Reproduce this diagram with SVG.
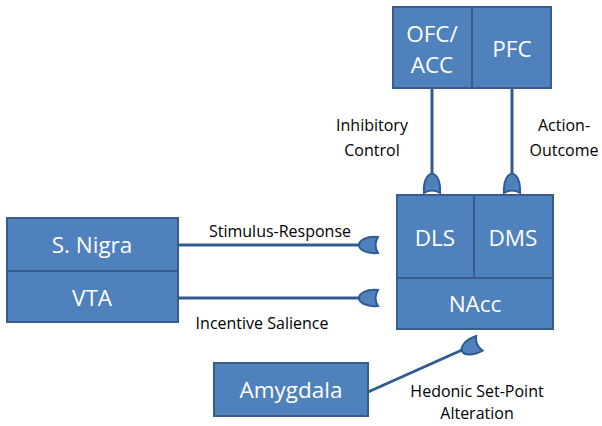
<svg xmlns="http://www.w3.org/2000/svg" width="602" height="426" viewBox="0 0 602 426">
<style>
.box{fill:#4f81bd;stroke:#385d8a;stroke-width:2}
.nt{fill:#fff;font-family:"Open Sans","Noto Sans",sans-serif;font-size:22.5px;text-anchor:middle}
.lb{fill:#000;font-family:"Open Sans","Noto Sans",sans-serif;font-size:16px;text-anchor:middle}
.ln{stroke:#2f5b8f;stroke-width:3;fill:none}
.cap{fill:#4f81bd;stroke:#2f5b8f;stroke-width:2}
</style>
<defs>
<path id="cap" d="M-8,19 C-9,6 -4,0 0,0 C4,0 9,6 8,19 Q0,14 -8,19 Z"/>
</defs>
<rect width="602" height="426" fill="#fff"/>
<g id="cortex">
<rect class="box" x="393" y="7" width="158" height="81"/>
<line x1="472" y1="7" x2="472" y2="88" stroke="#385d8a" stroke-width="2"/>
<text class="nt" x="432" y="42">OFC/</text>
<text class="nt" x="432" y="73">ACC</text>
<text class="nt" x="512" y="57">PFC</text>
</g>
<g id="striatum">
<rect class="box" x="397" y="195" width="156" height="134"/>
<line x1="474" y1="195" x2="474" y2="278" stroke="#385d8a" stroke-width="2"/>
<line x1="397" y1="278" x2="553" y2="278" stroke="#385d8a" stroke-width="2"/>
<text class="nt" x="435" y="246">DLS</text>
<text class="nt" x="513" y="246">DMS</text>
<text class="nt" x="475" y="312">NAcc</text>
</g>
<g id="midbrain">
<rect class="box" x="7" y="218" width="171" height="104"/>
<line x1="7" y1="271" x2="178" y2="271" stroke="#385d8a" stroke-width="2"/>
<text class="nt" x="92" y="253">S. Nigra</text>
<text class="nt" x="92" y="306">VTA</text>
</g>
<g id="amygdala">
<rect class="box" x="214" y="363" width="154" height="53"/>
<text class="nt" x="291" y="398">Amygdala</text>
</g>
<g id="connectors">
<line class="ln" x1="432" y1="88" x2="432" y2="175"/>
<line class="ln" x1="512" y1="88" x2="512" y2="175"/>
<line class="ln" x1="178" y1="245" x2="361" y2="245"/>
<line class="ln" x1="178" y1="298" x2="361" y2="298"/>
<line class="ln" x1="368" y1="392" x2="462" y2="350"/>
<use href="#cap" class="cap" transform="translate(432,174)"/>
<use href="#cap" class="cap" transform="translate(512,174)"/>
<use href="#cap" class="cap" transform="translate(359,245) rotate(-90)"/>
<use href="#cap" class="cap" transform="translate(359,298) rotate(-90)"/>
<use href="#cap" class="cap" transform="translate(462,351) rotate(-114)"/>
</g>
<g id="labels">
<text class="lb" x="372" y="131">Inhibitory</text>
<text class="lb" x="372" y="156">Control</text>
<text class="lb" x="564" y="131">Action-</text>
<text class="lb" x="564" y="156">Outcome</text>
<text class="lb" x="280" y="237">Stimulus-Response</text>
<text class="lb" x="262" y="329">Incentive Salience</text>
<text class="lb" x="477" y="397">Hedonic Set-Point</text>
<text class="lb" x="477" y="419">Alteration</text>
</g>
</svg>
